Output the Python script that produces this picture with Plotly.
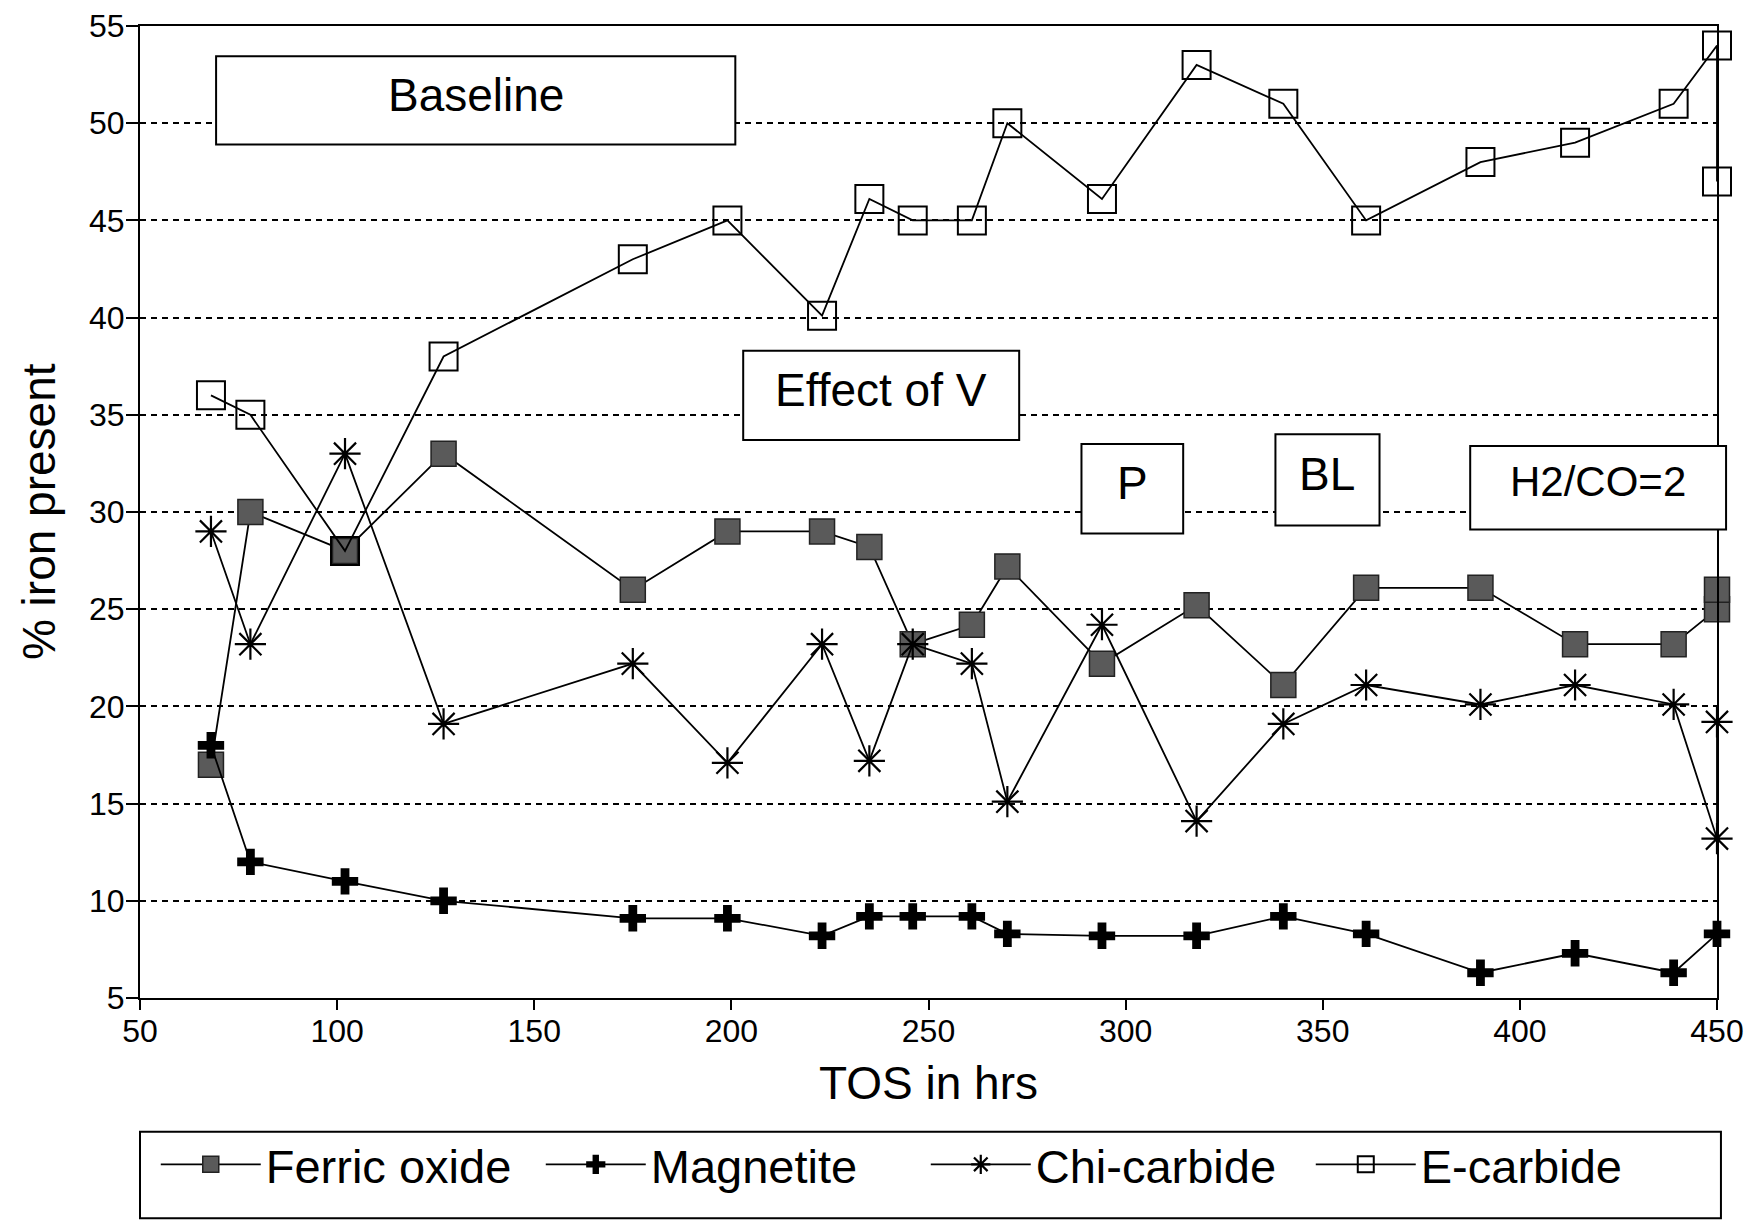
import plotly.graph_objects as go

# ---- data ----
tos = [68, 78, 102, 127, 175, 199, 223, 235, 246, 261, 270, 294, 318, 340, 361, 390, 414, 439, 450]

ferric_x = tos + [450]
ferric_y = [17, 30, 28, 33, 26, 29, 29, 28.2, 23.2, 24.2, 27.2, 22.2, 25.2, 21.1, 26.1, 26.1, 23.2, 23.2, 25, 26]

magnetite_x = tos
magnetite_y = [18, 12, 11, 10, 9.1, 9.1, 8.2, 9.2, 9.2, 9.2, 8.3, 8.2, 8.2, 9.2, 8.3, 6.3, 7.3, 6.3, 8.3]

chi_x = tos + [450]
chi_y = [29, 23.2, 33, 19.1, 22.2, 17.1, 23.2, 17.2, 23.2, 22.2, 15.1, 24.2, 14.1, 19.1, 21.1, 20.1, 21.1, 20.1, 13.2, 19.2]

ecarb_x = tos + [450]
ecarb_y = [36, 35, 28, 38, 43, 45, 40.1, 46.1, 45, 45, 50, 46.1, 53, 51, 45, 48, 49, 51, 54, 47]

x_ticks = [50, 100, 150, 200, 250, 300, 350, 400, 450]
y_ticks = [5, 10, 15, 20, 25, 30, 35, 40, 45, 50, 55]

# annotation boxes: (label, x0, x1, y0, y1, fontsize)
boxes = [
    ("Baseline", 69.3, 201, 48.9, 53.45, 46),
    ("Effect of V", 203, 273, 33.7, 38.3, 46),
    ("P", 288.8, 314.6, 28.9, 33.5, 46),
    ("BL", 338, 364.4, 29.3, 34.0, 46),
    ("H2/CO=2", 387.4, 452.3, 29.1, 33.4, 42),
]

FONT = "Liberation Sans, Arial, sans-serif"
fig = go.Figure()

line = dict(color="black", width=1.8)
fig.add_trace(go.Scatter(
    x=ferric_x, y=ferric_y, name="Ferric oxide", mode="lines+markers", line=line, cliponaxis=False,
    marker=dict(symbol="square", size=25, color="#5a5a5a", line=dict(color="#222", width=1.5)),
))
fig.add_trace(go.Scatter(
    x=magnetite_x, y=magnetite_y, name="Magnetite", mode="lines+markers", line=line, cliponaxis=False,
    marker=dict(symbol="cross", size=22, color="black", line=dict(width=0)),
))
fig.add_trace(go.Scatter(
    x=chi_x, y=chi_y, name="Chi-carbide", mode="lines+markers", line=line, cliponaxis=False,
    marker=dict(symbol="asterisk-open", size=26, color="black", line=dict(color="black", width=2.2)),
))
fig.add_trace(go.Scatter(
    x=ecarb_x, y=ecarb_y, name="E-carbide", mode="lines+markers", line=line, cliponaxis=False,
    marker=dict(symbol="square-open", size=28, color="black", line=dict(color="black", width=2)),
))

shapes = []
annotations = []
for label, x0, x1, y0, y1, fs in boxes:
    shapes.append(dict(
        type="rect", xref="paper", yref="y",
        x0=(x0 - 50) / 400, x1=(x1 - 50) / 400, y0=y0, y1=y1,
        line=dict(color="black", width=2), fillcolor="white", layer="above",
    ))
    annotations.append(dict(
        x=((x0 + x1) / 2 - 50) / 400, y=(y0 + y1) / 2 + 0.3, xref="paper", yref="y",
        xanchor="center", yanchor="middle",
        text=label, showarrow=False, font=dict(family=FONT, size=fs, color="black"),
    ))

# y-axis title placed as rotated annotation
annotations.append(dict(
    x=-0.064, y=0.5, xref="paper", yref="paper", xanchor="center", yanchor="middle",
    text="% iron present", textangle=-90, showarrow=False,
    font=dict(family=FONT, size=46, color="black"),
))

# legend frame
shapes.append(dict(
    type="rect", xref="paper", yref="paper",
    x0=0.0, x1=1.0025, y0=-0.2265, y1=-0.1375,
    line=dict(color="black", width=2), fillcolor="rgba(0,0,0,0)", layer="above",
))

fig.update_layout(
    width=1752, height=1223,
    margin=dict(l=140, r=35, t=26, b=225, autoexpand=False),
    paper_bgcolor="white", plot_bgcolor="white",
    font=dict(family=FONT, color="black"),
    showlegend=True,
    legend=dict(
        orientation="h", x=0.01, y=-0.133, xanchor="left", yanchor="top",
        font=dict(family=FONT, size=47, color="black"),
        bgcolor="rgba(0,0,0,0)", borderwidth=0, itemwidth=100,
        entrywidth=270, entrywidthmode="pixels",
    ),
    shapes=shapes,
    annotations=annotations,
)
fig.update_xaxes(
    range=[50, 450], tickvals=x_ticks, ticktext=[str(v) for v in x_ticks],
    showgrid=False, zeroline=False, automargin=False,
    showline=True, linecolor="black", linewidth=2, mirror=True,
    ticks="outside", ticklen=10, tickwidth=2, tickcolor="black", ticklabelstandoff=-6,
    tickfont=dict(family=FONT, size=32, color="black"),
    title=dict(text="TOS in hrs", font=dict(family=FONT, size=46, color="black"), standoff=18),
)
fig.update_yaxes(
    range=[5, 55], tickvals=y_ticks, ticktext=[str(v) for v in y_ticks],
    showgrid=True, gridcolor="black", gridwidth=2.4, griddash="6px,5px",
    zeroline=False, automargin=False,
    showline=True, linecolor="black", linewidth=2, mirror=True,
    ticks="outside", ticklen=12, tickwidth=2, tickcolor="black", ticklabelstandoff=-5,
    tickfont=dict(family=FONT, size=32, color="black"),
)

fig.write_html("out.html")
